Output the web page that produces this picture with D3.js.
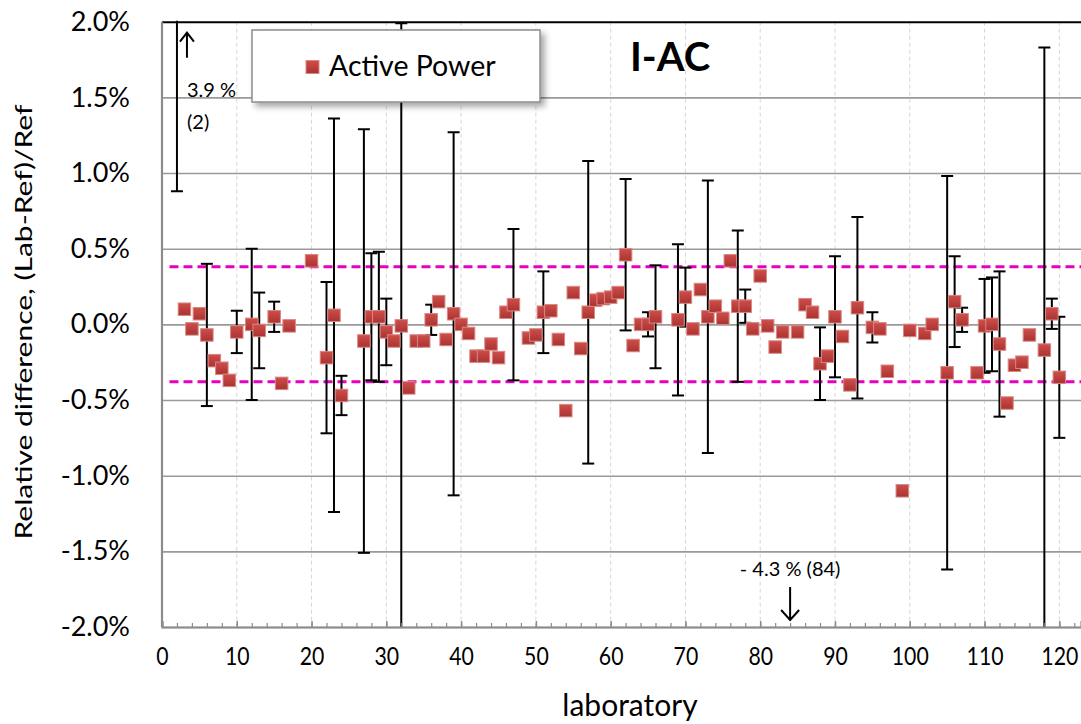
<!DOCTYPE html>
<html>
<head>
<meta charset="utf-8">
<script src="https://cdn.jsdelivr.net/npm/d3@7"></script>
<style>
  body { margin: 0; background: #fff; }
  svg text { font-family: Lato, "Open Sans", sans-serif; fill: #000; }
</style>
</head>
<body>
<div id="chart"></div>
<script>
// Laboratory numbers and relative differences (%)
const labs = [2,3,4,5,6,7,8,9,10,12,13,15,16,17,20,22,23,24,27,28,29,30,31,32,33,34,35,36,37,38,39,40,
  41,42,43,44,45,46,47,49,50,51,52,53,54,55,56,57,58,59,60,61,62,63,64,65,66,69,70,71,72,73,74,75,76,77,78,
  79,80,81,82,83,84,85,86,87,88,89,90,91,92,93,95,96,97,99,100,102,103,105,106,107,109,110,111,112,113,114,
  115,116,118,119,120];
const values = [3.9,0.10,-0.03,0.07,-0.07,-0.24,-0.29,-0.37,-0.05,0.00,-0.04,0.05,-0.39,-0.01,0.42,-0.22,
  0.06,-0.47,-0.11,0.05,0.05,-0.05,-0.11,-0.01,-0.42,-0.11,-0.11,0.03,0.15,-0.10,0.07,0.00,
  -0.06,-0.21,-0.21,-0.13,-0.22,0.08,0.13,-0.09,-0.07,0.08,0.09,-0.10,-0.57,0.21,-0.16,0.08,0.16,0.17,0.18,
  0.21,0.46,-0.14,0.00,0.00,0.05,0.03,0.18,-0.03,0.23,0.05,0.12,0.04,0.42,0.12,0.12,
  -0.03,0.32,-0.01,-0.15,-0.05,-4.3,-0.05,0.13,0.08,-0.26,-0.21,0.05,-0.08,-0.40,0.11,-0.02,-0.03,-0.31,-1.10,
  -0.04,-0.06,0.00,-0.32,0.15,0.03,-0.32,-0.01,0.00,-0.13,-0.52,-0.27,
  -0.25,-0.07,-0.17,0.07,-0.35];

// Laboratories that reported an uncertainty, and its half width (%)
const barLabs = [2,6,10,12,13,15,22,23,24,27,28,29,30,32,36,39,47,51,57,62,65,66,69,70,73,77,78,88,90,93,95,
  105,106,107,110,111,112,118,119,120];
const barU = [3.02,0.47,0.14,0.50,0.25,0.10,0.50,1.30,0.13,1.40,0.42,0.43,0.22,2.00,0.10,1.20,0.50,0.27,1.00,
  0.50,0.08,0.34,0.50,0.195,0.90,0.50,0.11,0.24,0.40,0.60,0.10,1.30,0.30,0.08,0.31,0.31,0.48,2.00,0.10,0.40];

// Consensus limits (%)
const limits = [0.38, -0.38];

const yTicks = [-2, -1.5, -1, -0.5, 0, 0.5, 1, 1.5, 2];
const xLabelTicks = d3.range(0, 121, 10);
const xMinorTicks = d3.range(0, 123, 2);

const points = labs.map((lab, i) => ({ lab, value: values[i] }));
const bars = barLabs.map((lab, i) => {
  const v = values[labs.indexOf(lab)];
  return { lab, lo: v - barU[i], hi: v + barU[i] };
});

const W = 1081, H = 724;
const margin = { top: 21.7, right: 0, bottom: 97, left: 162 };
const width = W - margin.left - margin.right;
const height = H - margin.top - margin.bottom;

const svg = d3.select('#chart').append('svg')
  .attr('width', W)
  .attr('height', H);

const defs = svg.append('defs');
defs.append('clipPath').attr('id', 'plot-clip')
  .append('rect').attr('x', 0).attr('y', -1).attr('width', width).attr('height', height + 1);
const grad = defs.append('linearGradient').attr('id', 'marker-fill')
  .attr('x1', 0).attr('y1', 0).attr('x2', 0).attr('y2', 1);
grad.append('stop').attr('offset', '0%').attr('stop-color', '#cf4e4a');
grad.append('stop').attr('offset', '100%').attr('stop-color', '#a93331');
const shadow = defs.append('filter').attr('id', 'legend-shadow')
  .attr('x', '-10%').attr('y', '-10%').attr('width', '130%').attr('height', '140%');
shadow.append('feDropShadow').attr('dx', 4).attr('dy', 4).attr('stdDeviation', 3)
  .attr('flood-color', '#000').attr('flood-opacity', 0.35);

const xScale = d3.scaleLinear().domain([0, 122.9]).range([0, width]);
const yScale = d3.scaleLinear().domain([-2, 2]).range([height, 0]);

const chart = svg.append('g')
  .attr('transform', `translate(${margin.left},${margin.top})`);

// Vertical dashed grid
chart.append('g')
  .selectAll('line')
  .data(xLabelTicks.filter(d => d > 0))
  .join('line')
  .attr('x1', d => xScale(d)).attr('x2', d => xScale(d))
  .attr('y1', 0).attr('y2', height)
  .attr('stroke', '#d6d6d6').attr('stroke-width', 1)
  .attr('stroke-dasharray', '4,3');

// Horizontal grid + y labels
const yAxis = d3.axisLeft(yScale)
  .tickValues(yTicks)
  .tickSize(-width)
  .tickPadding(32)
  .tickFormat(d => d3.format('.1%')(d / 100).replace('\u2212', '-'));
const yAxisG = chart.append('g').call(yAxis);
yAxisG.select('.domain').remove();
yAxisG.selectAll('.tick line')
  .attr('stroke', d => d === 2 ? '#000' : '#9a9a9a')
  .attr('stroke-width', d => d === 2 ? 2 : 1.6);
yAxisG.selectAll('.tick text')
  .attr('font-size', 27)
  .attr('font-family', 'Lato, sans-serif');

// Left axis line
chart.append('line')
  .attr('x1', 0).attr('x2', 0).attr('y1', 0).attr('y2', height)
  .attr('stroke', '#8c8c8c').attr('stroke-width', 2.2);

// Consensus limit lines
chart.append('g')
  .selectAll('line')
  .data(limits)
  .join('line')
  .attr('x1', xScale(1)).attr('x2', width)
  .attr('y1', d => yScale(d)).attr('y2', d => yScale(d))
  .attr('stroke', '#e800c0').attr('stroke-width', 3)
  .attr('stroke-dasharray', '9,5');

const plot = chart.append('g').attr('clip-path', 'url(#plot-clip)');

// Error bars
const capW = 6;
const barG = plot.append('g').attr('stroke', '#000').attr('stroke-width', 2);
barG.selectAll('.err')
  .data(bars)
  .join('line')
  .attr('class', 'err')
  .attr('x1', d => xScale(d.lab)).attr('x2', d => xScale(d.lab))
  .attr('y1', d => yScale(d.lo)).attr('y2', d => yScale(d.hi));
barG.selectAll('.cap')
  .data(bars.flatMap(d => [{ lab: d.lab, v: d.lo }, { lab: d.lab, v: d.hi }]).filter(d => d.v >= -2 && d.v <= 2))
  .join('line')
  .attr('class', 'cap')
  .attr('x1', d => xScale(d.lab) - capW).attr('x2', d => xScale(d.lab) + capW)
  .attr('y1', d => yScale(d.v)).attr('y2', d => yScale(d.v));

// Markers
const ms = 12.5;
plot.selectAll('.pt')
  .data(points)
  .join('rect')
  .attr('class', 'pt')
  .attr('x', d => xScale(d.lab) - ms / 2)
  .attr('y', d => yScale(d.value) - ms / 2)
  .attr('width', ms).attr('height', ms)
  .attr('fill', 'url(#marker-fill)')
  .attr('stroke', '#d98884').attr('stroke-width', 1);

// Bottom axis with minor/major ticks
const xMinor = d3.axisBottom(xScale).tickValues(xMinorTicks).tickSize(-4).tickFormat('');
const xMinorG = chart.append('g').attr('transform', `translate(0,${height})`).call(xMinor);
xMinorG.select('.domain').remove();
xMinorG.selectAll('.tick line').attr('stroke', '#8c8c8c').attr('stroke-width', 1.2);

const xAxis = d3.axisBottom(xScale).tickValues(xLabelTicks).tickSize(-6).tickPadding(20);
const xAxisG = chart.append('g').attr('transform', `translate(0,${height})`).call(xAxis);
xAxisG.select('.domain').attr('stroke', '#8c8c8c').attr('stroke-width', 2.2);
xAxisG.selectAll('.tick line').attr('stroke', '#8c8c8c').attr('stroke-width', 1.5);
xAxisG.selectAll('.tick text')
  .attr('font-size', 25)
  .attr('font-family', 'Lato, sans-serif')
  .attr('transform', 'scale(0.85,1)');

// Off-scale annotations
const offHigh = points.find(d => d.value > 2);
const offLow = points.find(d => d.value < -2);

const ax = xScale(offHigh.lab) + 10;
chart.append('path')
  .attr('d', `M${ax},${36} L${ax},${12} M${ax - 7},${20} L${ax},${11} L${ax + 7},${20}`)
  .attr('fill', 'none').attr('stroke', '#000').attr('stroke-width', 2);
chart.append('text')
  .attr('x', ax).attr('y', 75)
  .attr('font-size', 20)
  .text(`${d3.format('.1f')(offHigh.value)} %`);
chart.append('text')
  .attr('x', ax).attr('y', 107)
  .attr('font-size', 20)
  .text(`(${offHigh.lab})`);

const bx = xScale(offLow.lab);
chart.append('path')
  .attr('d', `M${bx},${height - 40} L${bx},${height - 7} M${bx - 9},${height - 17} L${bx},${height - 7} L${bx + 9},${height - 17}`)
  .attr('fill', 'none').attr('stroke', '#000').attr('stroke-width', 2);
chart.append('text')
  .attr('x', bx).attr('y', height - 51)
  .attr('text-anchor', 'middle')
  .attr('font-size', 20)
  .text(`- ${d3.format('.1f')(-offLow.value)} % (${offLow.lab})`);

// Legend
const legend = svg.append('g').attr('transform', 'translate(252,30)');
legend.append('rect')
  .attr('width', 288).attr('height', 72)
  .attr('fill', '#fff').attr('stroke', '#8c8c8c').attr('stroke-width', 1.5)
  .attr('filter', 'url(#legend-shadow)');
legend.append('rect')
  .attr('x', 54).attr('y', 30.5).attr('width', 13).attr('height', 13)
  .attr('fill', 'url(#marker-fill)').attr('stroke', '#d98884');
legend.append('text')
  .attr('x', 77).attr('y', 46)
  .attr('font-size', 28.5)
  .text('Active Power');

// Title
svg.append('text')
  .attr('x', 630).attr('y', 71)
  .attr('font-size', 40).attr('font-weight', 'bold')
  .text('I-AC');

// Axis titles
svg.append('text')
  .attr('transform', `translate(32,${322}) scale(1,1.25) rotate(-90)`)
  .attr('text-anchor', 'middle')
  .attr('font-size', 24)
  .text('Relative difference, (Lab-Ref)/Ref');
svg.append('text')
  .attr('x', 630).attr('y', 716)
  .attr('text-anchor', 'middle')
  .attr('font-size', 30)
  .text('laboratory');
</script>
</body>
</html>
